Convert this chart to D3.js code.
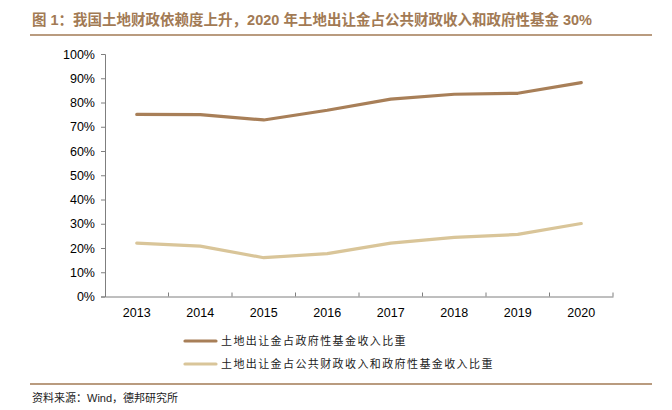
<!DOCTYPE html>
<html><head><meta charset="utf-8">
<script src="https://cdn.jsdelivr.net/npm/d3@7"></script>
<style>body{margin:0;background:#fff}svg{display:block}</style>
</head><body>
<svg id="c" width="672" height="410"></svg>
<script>
const years = ["2013","2014","2015","2016","2017","2018","2019","2020"];
const seriesFund = [0.751, 0.750, 0.728, 0.768, 0.814, 0.834, 0.838, 0.882];
const seriesTotal = [0.220, 0.208, 0.160, 0.177, 0.220, 0.244, 0.256, 0.301];
const seriesNames = ["土地出让金占政府性基金收入比重", "土地出让金占公共财政收入和政府性基金收入比重"];
const yTicks = [0,0.1,0.2,0.3,0.4,0.5,0.6,0.7,0.8,0.9,1.0];
const colors = ["#a87f58", "#d9c599"];
const title = "图 1：我国土地财政依赖度上升，2020 年土地出让金占公共财政收入和政府性基金 30%";
const source = "资料来源：Wind，德邦研究所";

const svg = d3.select("#c");
const L = 105, R = 613, T = 54, B = 296.5;
const x = d3.scaleBand().domain(years).range([L, R]);
const y = d3.scaleLinear().domain([0,1]).range([B, T]);
const latin = "'Liberation Sans', Arial, sans-serif";
const cjk = "'Liberation Sans', 'Noto Sans CJK SC', sans-serif";

svg.append("text").attr("x", 32).attr("y", 25).attr("fill", "#a27a54")
  .attr("font-family", cjk).attr("font-size", 14.5).attr("font-weight", "bold").text(title);
svg.append("line").attr("x1", 30).attr("x2", 652).attr("y1", 35).attr("y2", 35)
  .attr("stroke", "#a27a54").attr("stroke-width", 1.5);

const gy = svg.append("g").attr("transform", `translate(${L},0)`)
  .call(d3.axisLeft(y).tickValues(yTicks).tickFormat(d3.format(".0%")).tickSize(4).tickPadding(6));
const gx = svg.append("g").attr("transform", `translate(0,${B})`)
  .call(d3.axisBottom(x).tickSize(0).tickPadding(12));
gx.selectAll(".bt").data(years).enter().append("line")
  .attr("x1", (d,i) => L + x.step()*(i+1)).attr("x2", (d,i) => L + x.step()*(i+1))
  .attr("y1", 0).attr("y2", -4).attr("stroke", "#7f7f7f");
[gy, gx].forEach(g => {
  g.selectAll(".domain").attr("stroke", "#7f7f7f");
  g.selectAll(".tick line").attr("stroke", "#7f7f7f");
  g.selectAll("text").attr("font-family", latin).attr("font-size", 12.5).attr("fill", "#000");
});

const line = d3.line().x((d,i) => x(years[i]) + x.bandwidth()/2).y(d => y(d));
[seriesFund, seriesTotal].forEach((s, k) => {
  svg.append("path").datum(s).attr("d", line).attr("fill", "none")
    .attr("stroke", colors[k]).attr("stroke-width", 3.2).attr("stroke-linejoin", "round").attr("stroke-linecap", "round");
});

seriesNames.forEach((n, k) => {
  const yy = 341 + k*23;
  svg.append("line").attr("x1", 185).attr("x2", 216).attr("y1", yy).attr("y2", yy)
    .attr("stroke", colors[k]).attr("stroke-width", 3.2).attr("stroke-linecap", "round");
  svg.append("text").attr("x", 221).attr("y", yy + 4).attr("font-family", "'Noto Sans CJK SC', sans-serif")
    .attr("font-size", 11).attr("letter-spacing", 1.4).attr("fill", "#222").text(n);
});

svg.append("line").attr("x1", 30).attr("x2", 652).attr("y1", 384).attr("y2", 384)
  .attr("stroke", "#a27a54").attr("stroke-width", 1.5);
svg.append("text").attr("x", 32).attr("y", 402).attr("font-family", cjk)
  .attr("font-size", 11).attr("fill", "#222").text(source);
</script>
</body></html>
